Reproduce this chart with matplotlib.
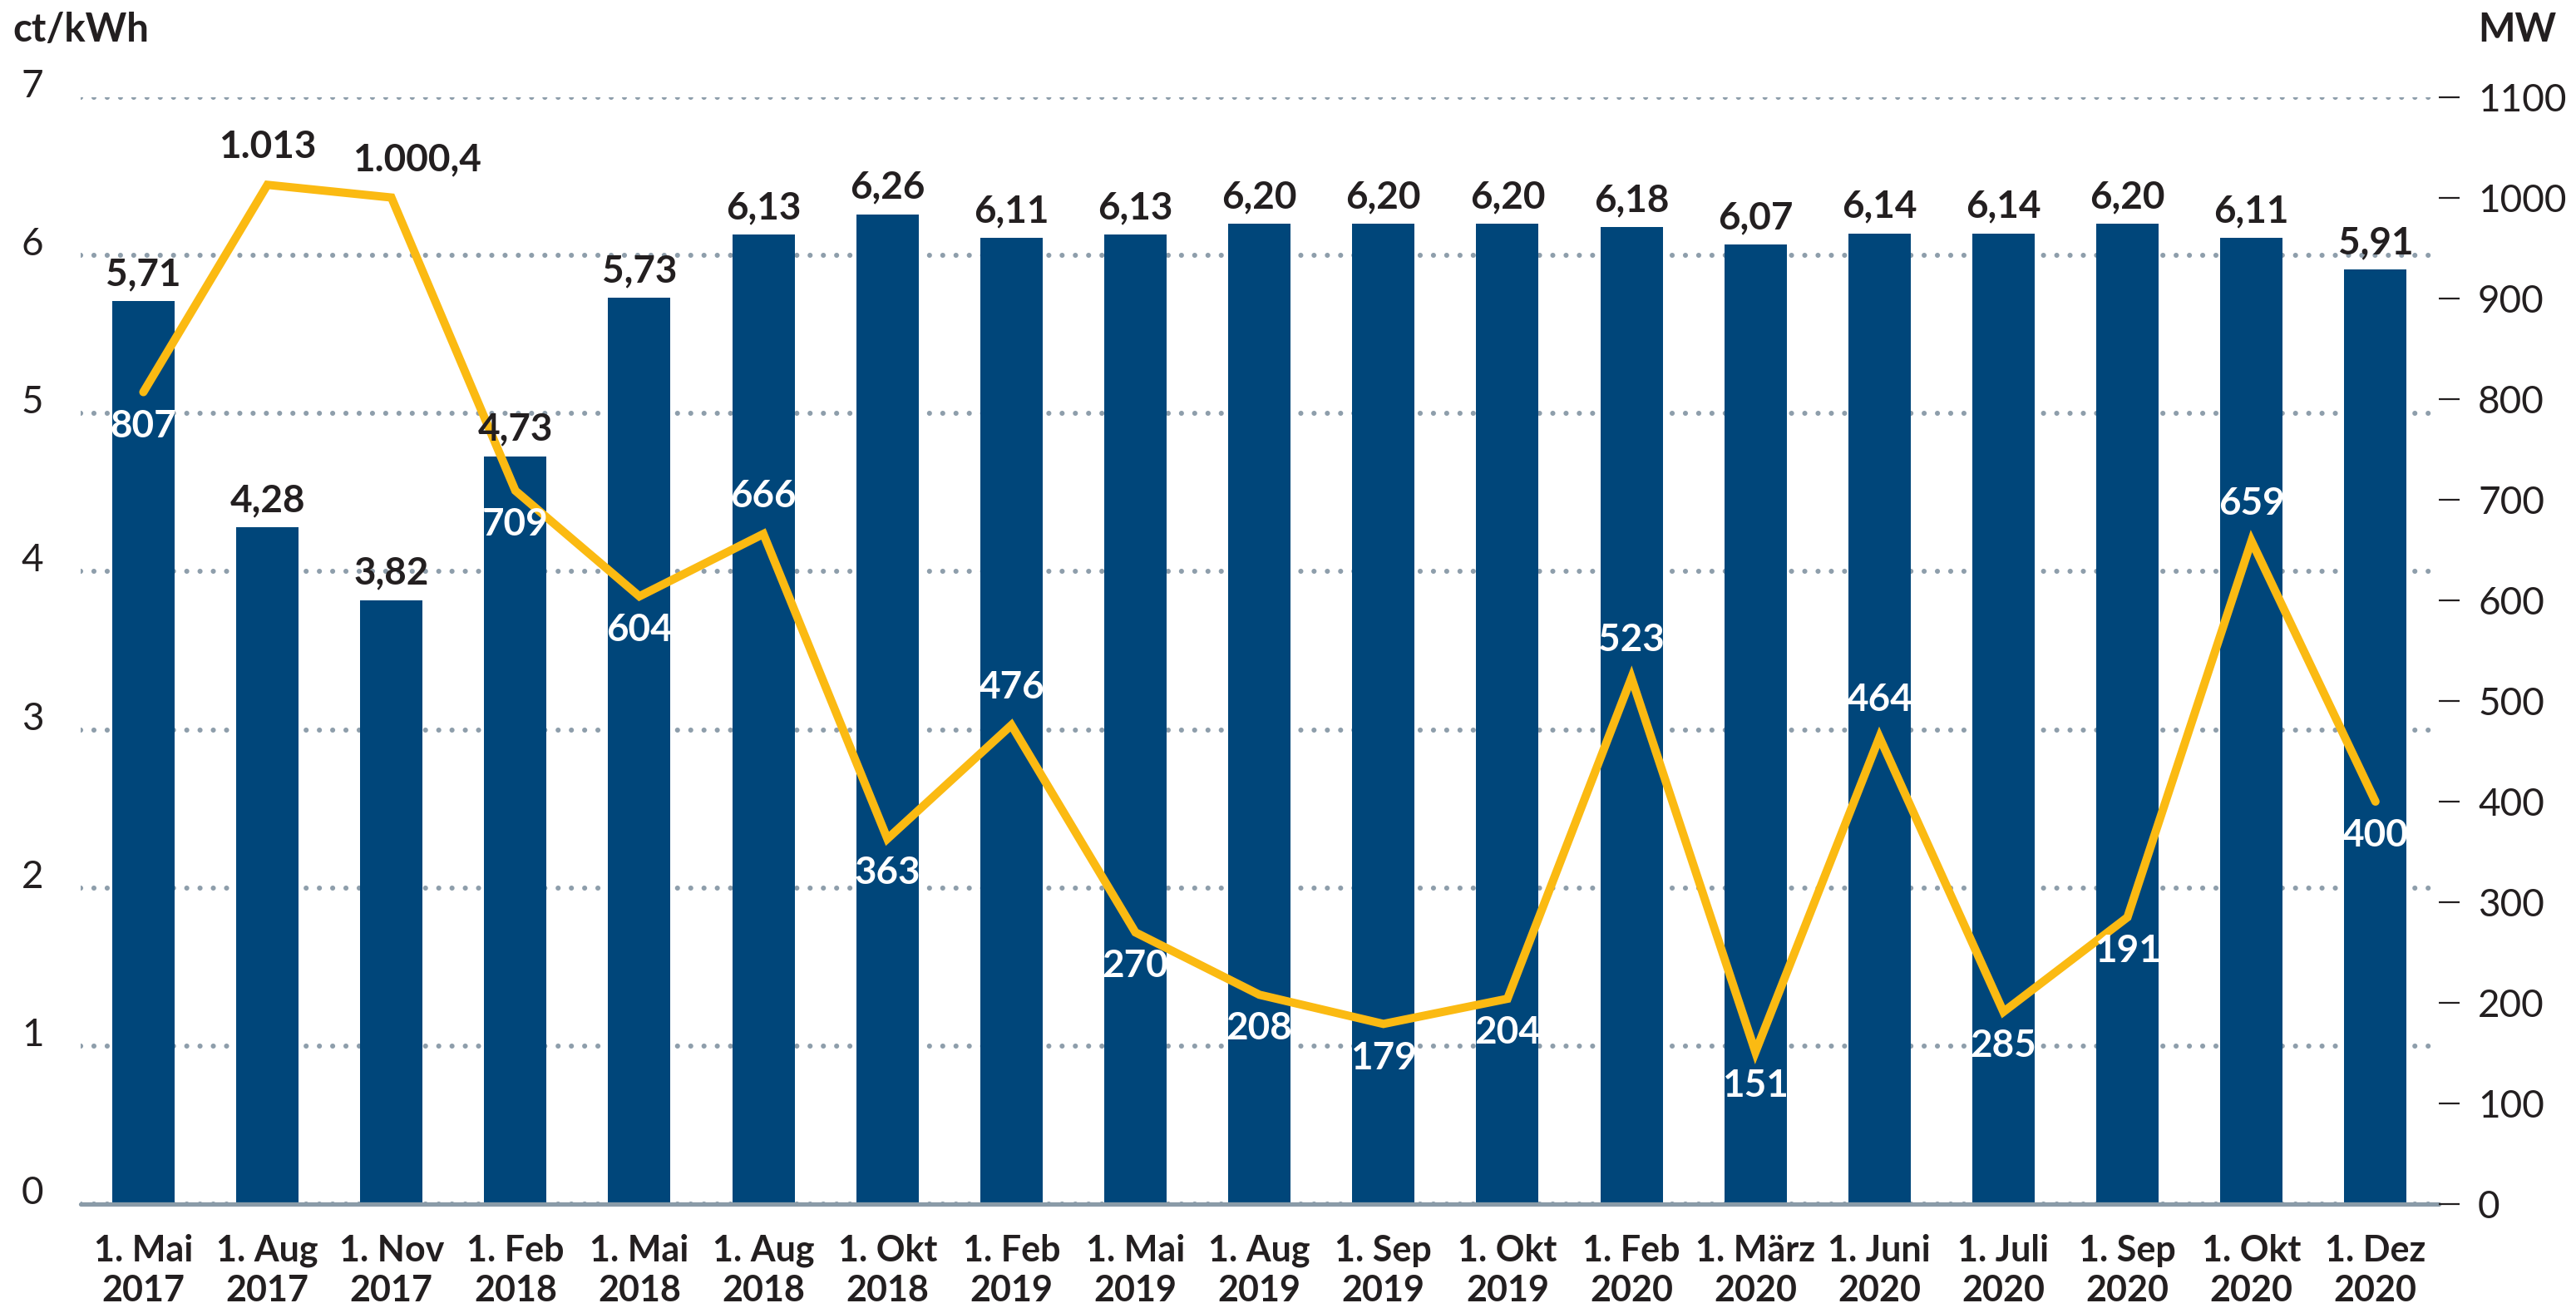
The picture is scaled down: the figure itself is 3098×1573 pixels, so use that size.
import numpy as np
import matplotlib
matplotlib.use("Agg")
import matplotlib.pyplot as plt

plt.rcParams['font.family'] = ['Lato', 'DejaVu Sans']

# Stichtage
dates = ["1. Mai\n2017", "1. Aug\n2017", "1. Nov\n2017", "1. Feb\n2018", "1. Mai\n2018",
         "1. Aug\n2018", "1. Okt\n2018", "1. Feb\n2019", "1. Mai\n2019", "1. Aug\n2019",
         "1. Sep\n2019", "1. Okt\n2019", "1. Feb\n2020", "1. März\n2020", "1. Juni\n2020",
         "1. Juli\n2020", "1. Sep\n2020", "1. Okt\n2020", "1. Dez\n2020"]

# durchschnittlicher Zuschlagswert in ct/kWh (Balken)
ct_values = [5.71, 4.28, 3.82, 4.73, 5.73, 6.13, 6.26, 6.11, 6.13, 6.20,
             6.20, 6.20, 6.18, 6.07, 6.14, 6.14, 6.20, 6.11, 5.91]
ct_labels = ["5,71", "4,28", "3,82", "4,73", "5,73", "6,13", "6,26", "6,11", "6,13", "6,20",
             "6,20", "6,20", "6,18", "6,07", "6,14", "6,14", "6,20", "6,11", "5,91"]

# Zuschlagsmenge in MW (Linie), wie im Original gezeichnet
mw_values = [807, 1013, 1000.4, 709, 604, 666, 363, 476, 270, 208,
             179, 204, 523, 151, 464, 191, 285, 659, 400]
mw_labels = ["807", "1.013", "1.000,4", "709", "604", "666", "363", "476", "270", "208",
             "179", "204", "523", "151", "464", "285", "191", "659", "400"]

left_ticks = [0, 1, 2, 3, 4, 5, 6, 7]
right_ticks = [0, 100, 200, 300, 400, 500, 600, 700, 800, 900, 1000, 1100]

BLUE = "#00467A"
YELLOW = "#FBBA12"
DARK = "#231F20"
GRID = "#8E9EAB"
AXIS = "#8A9BA8"

label_above = {1, 2, 5, 7, 12, 14, 17}
label_dark = {1, 2}
label_dx = {2: 11}

fig = plt.figure(figsize=(15.49, 7.865), dpi=200)
ax = fig.add_axes([0.0313, 0.0795, 0.9154, 0.8461])
ax2 = ax.twinx()

x = np.arange(len(dates))
ax.bar(x, ct_values, width=0.503, color=BLUE, zorder=1)

ax.set_xlim(-0.506, len(dates) - 1 + 0.51)
ax.set_ylim(0, 7)
ax2.set_ylim(0, 1100)

# Gitterlinien (gepunktet)
ax.set_axisbelow(True)
ax.set_yticks(left_ticks)
ax.yaxis.grid(True, color=GRID, linewidth=2.2, linestyle=(0, (0.01, 2.6)),
              dash_capstyle='round')
ax.xaxis.grid(False)

for s in ['top', 'right', 'left']:
    ax.spines[s].set_visible(False)
    ax2.spines[s].set_visible(False)
ax2.spines['bottom'].set_visible(False)
ax.spines['bottom'].set_color(AXIS)
ax.spines['bottom'].set_linewidth(1.9)
ax.spines['bottom'].set_capstyle('round')
ax.spines['bottom'].set_zorder(3)

ax.set_yticklabels([str(t) for t in left_ticks])
ax.tick_params(axis='y', length=0, pad=16, labelsize=16.5, labelcolor=DARK)
for lab in ax.get_yticklabels():
    lab.set_verticalalignment('baseline')

ax.set_xticks(x)
ax.set_xticklabels(dates, fontweight='bold', linespacing=1.25)
ax.tick_params(axis='x', length=0, pad=13, labelsize=15.5, labelcolor=DARK)

ax2.set_yticks(right_ticks)
ax2.set_yticklabels([str(t) for t in right_ticks])
ax2.tick_params(axis='y', direction='out', length=9, width=0.8, color=DARK,
                pad=8, labelsize=16.5, labelcolor=DARK)

# Linie
ax2.plot(x, mw_values, color=YELLOW, linewidth=3.6, solid_capstyle='round',
         solid_joinstyle='miter', zorder=4)

# Werte an den Balken
for i, (v, s) in enumerate(zip(ct_values, ct_labels)):
    ax2.annotate(s, xy=(x[i], v), xycoords=ax.transData, xytext=(0, 6.8),
                 textcoords='offset points', ha='center', va='baseline',
                 fontsize=16.5, fontweight='bold', color=DARK, zorder=6)

# Werte an der Linie
for i, (v, s) in enumerate(zip(mw_values, mw_labels)):
    dy = 11.5 if i in label_above else -19.5
    ax2.annotate(s, xy=(x[i], v), xytext=(label_dx.get(i, 0), dy),
                 textcoords='offset points', ha='center', va='baseline',
                 fontsize=16.5, fontweight='bold',
                 color=DARK if i in label_dark else 'white', zorder=6)

fig.text(15 / 3098, 1 - 50 / 1573, "ct/kWh", fontsize=17, fontweight='bold',
         color=DARK, ha='left', va='baseline')
fig.text(2980 / 3098, 1 - 50 / 1573, "MW", fontsize=17, fontweight='bold',
         color=DARK, ha='left', va='baseline')

fig.savefig("out.png", dpi=200, facecolor='white')
